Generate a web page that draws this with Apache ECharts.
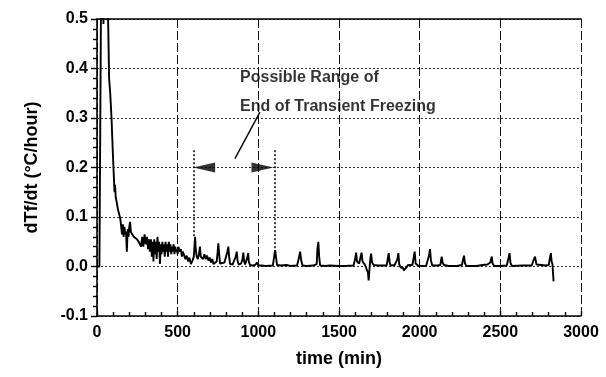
<!DOCTYPE html>
<html>
<head>
<meta charset="utf-8">
<script src="https://cdn.jsdelivr.net/npm/echarts@6/dist/echarts.min.js"></script>
<style>
  html, body { margin: 0; padding: 0; background: #fff; }
  #chart { width: 606px; height: 377px; }
</style>
</head>
<body>
<div id="chart"></div>
<script>
// Freezing-rate record: time (min) and dTf/dt (°C/hour)
const timeMin = [
  0, 15, 28, 40, 50, 70, 75, 82, 90, 97, 102, 106, 109, 112, 116, 122, 130, 138, 145, 150,
  155, 160, 165, 170, 175, 180, 185, 190, 195, 200, 205, 210, 218, 228, 238, 248, 258, 266, 273, 280,
  287, 295, 302, 310, 316, 322, 328, 334, 340, 345, 350, 355, 360, 365, 370, 375, 380, 385, 390, 395,
  400, 405, 410, 415, 420, 425, 430, 435, 440, 445, 450, 455, 460, 465, 470, 475, 480, 485, 490, 495,
  500, 505, 512, 520, 526, 532, 540, 548, 556, 565, 573, 582, 592, 600, 605, 608, 612, 618, 625, 632,
  638, 643, 650, 658, 666, 674, 682, 690, 698, 706, 714, 722, 732, 742, 748, 752, 757, 763, 775, 790,
  802, 808, 814, 819, 825, 840, 852, 860, 866, 871, 878, 893, 902, 907, 912, 918, 928, 933, 937, 941,
  948, 965, 980, 992, 1000, 1020, 1045, 1050, 1056, 1090, 1098, 1104, 1110, 1116, 1140, 1175, 1200, 1240, 1250, 1259,
  1266, 1274, 1300, 1340, 1362, 1366, 1372, 1377, 1383, 1420, 1440, 1445, 1450, 1500, 1535, 1540, 1545, 1590, 1600, 1606,
  1612, 1625, 1634, 1640, 1646, 1660, 1672, 1679, 1684, 1689, 1694, 1699, 1705, 1715, 1740, 1760, 1795, 1802, 1808, 1814,
  1820, 1845, 1856, 1862, 1868, 1873, 1882, 1890, 1897, 1902, 1910, 1918, 1928, 1935, 1955, 1963, 1969, 1975, 1990, 2010,
  2040, 2052, 2058, 2064, 2070, 2078, 2110, 2128, 2133, 2137, 2142, 2150, 2160, 2166, 2180, 2230, 2262, 2270, 2275, 2281,
  2290, 2350, 2390, 2420, 2430, 2438, 2443, 2447, 2452, 2462, 2500, 2540, 2550, 2557, 2563, 2572, 2640, 2695, 2705, 2715,
  2724, 2735, 2780, 2800, 2807, 2813, 2818, 2823, 2826, 2830
];
const dTfdt = [
  0, 0, 0.7, 0.49, 0.75, 0.48, 0.38, 0.35, 0.30, 0.24, 0.2, 0.17, 0.15, 0.165, 0.14, 0.13, 0.115, 0.105, 0.095, 0.08,
  0.065, 0.085, 0.06, 0.08, 0.065, 0.07, 0.03, 0.075, 0.06, 0.08, 0.09, 0.07, 0.065, 0.06, 0.058, 0.055, 0.05, 0.045, 0.04, 0.06,
  0.04, 0.065, 0.045, 0.06, 0.035, 0.055, 0.03, 0.055, 0.02, 0.05, 0.01, 0.055, 0.025, 0.05, 0.015, 0.06, 0.03, 0.05, 0.005, 0.045,
  0.025, 0.05, 0.03, 0.045, 0.02, 0.05, 0.03, 0.045, 0.02, 0.05, 0.03, 0.045, 0.025, 0.04, 0.03, 0.045, 0.025, 0.04, 0.03, 0.035,
  0.025, 0.04, 0.03, 0.035, 0.02, 0.03, 0.028, 0.015, 0.022, 0.01, 0.018, 0.005, 0.012, 0.02, 0.045, 0.06, 0.035, 0.02, 0.015, 0.025,
  0.04, 0.02, 0.02, 0.015, 0.025, 0.015, 0.022, 0.012, 0.018, 0.008, 0.015, 0.005, 0.008, 0.01, 0.03, 0.047, 0.025, 0.006, 0.005, 0.008,
  0.01, 0.03, 0.04, 0.02, 0.005, 0.004, 0.008, 0.02, 0.03, 0.012, 0.004, 0.006, 0.015, 0.028, 0.01, 0.004, 0.008, 0.02, 0.027, 0.01,
  0.003, 0.002, 0.003, 0.008, 0.002, 0.002, 0.001, 0.004, 0.001, 0.002, 0.02, 0.033, 0.018, 0.003, 0.002, 0.003, 0.001, 0.002, 0.015, 0.03,
  0.012, 0.002, 0.001, 0.002, 0.005, 0.035, 0.05, 0.02, 0.002, 0.001, 0.002, 0.006, 0.001, 0.001, 0.001, 0.005, 0.001, 0.002, 0.015, 0.028,
  0.01, 0.006, 0.02, 0.028, 0.01, 0.004, 0.002, -0.012, -0.028, -0.005, 0.015, 0.026, 0.008, 0.003, 0.002, 0.002, 0.002, 0.015, 0.027, 0.008,
  0.002, 0.003, 0.002, 0.015, 0.027, 0.005, -0.002, -0.006, -0.003, -0.008, -0.004, -0.002, 0.003, 0.002, 0.003, 0.018, 0.03, 0.006, 0.002, 0.001,
  0.001, 0.003, 0.022, 0.035, 0.012, 0.002, 0.002, 0.003, 0.014, 0.02, 0.008, 0.003, 0.006, 0.002, 0.001, 0.001, 0.003, 0.015, 0.022, 0.006,
  0.001, 0.001, 0.003, 0.004, 0.007, 0.008, 0.015, 0.02, 0.006, 0.001, 0.001, 0.002, 0.016, 0.027, 0.007, 0.001, 0.002, 0.002, 0.012, 0.02,
  0.004, 0.001, 0.002, 0.003, 0.017, 0.027, 0.01, 0.005, -0.01, -0.03
];

// Annotation: bracket marking the possible end of transient freezing
const bracketTimes = [600, 1100];
const bracketTop = 0.235;
const bracketBottoms = [0.06, 0.035];
const arrowLevel = 0.2;
const arrowCentres = [664, 1026];
const leaderLine = [[855, 0.218], [1010, 0.312]];
const noteLines = ['Possible Range of', 'End of Transient Freezing'];
const noteAnchors = [[887, 0.382], [887, 0.323]];

const xTickLabels = ['0', '500', '1000', '1500', '2000', '2500', '3000'];

const FONT = '"Liberation Sans", Arial, Helvetica, sans-serif';
const INK = '#000';

const series = timeMin.map((t, i) => [t, dTfdt[i]]);

const chart = echarts.init(document.getElementById('chart'), null, { renderer: 'canvas' });

chart.setOption({
  animation: false,
  backgroundColor: '#fff',
  grid: { left: 97, right: 25, top: 19, bottom: 61 },
  xAxis: [
    {
      type: 'value',
      min: 0, max: 3000, interval: 500,
      name: 'time (min)',
      nameLocation: 'middle',
      nameGap: 34,
      nameTextStyle: { fontFamily: FONT, fontSize: 18, fontWeight: 'bold', color: INK },
      axisLine: { show: true, onZero: false, lineStyle: { color: INK, width: 1.6 } },
      axisTick: { show: true, inside: true, length: 5, lineStyle: { color: INK, width: 1.4 } },
      minorTick: { show: true, splitNumber: 5, length: 4, lineStyle: { color: INK, width: 1.4 } },
      axisLabel: {
        margin: 9, fontFamily: FONT, fontSize: 16, fontWeight: 'bold', color: INK,
        formatter: v => xTickLabels[Math.round(v / 500)]
      },
      splitLine: { show: true, lineStyle: { color: '#111', width: 1, type: [9, 3] } }
    },
    {
      type: 'value', position: 'top',
      min: 0, max: 3000,
      axisLine: { show: true, onZero: false, lineStyle: { color: INK, width: 1.6 } },
      axisTick: { show: false }, axisLabel: { show: false }, splitLine: { show: false }
    }
  ],
  yAxis: {
    type: 'value',
    min: -0.1, max: 0.5, interval: 0.1,
    name: 'dTf/dt (°C/hour)',
    nameLocation: 'middle',
    nameGap: 56,
    nameTextStyle: { fontFamily: FONT, fontSize: 18, fontWeight: 'bold', color: INK },
    axisLine: { show: true, onZero: false, lineStyle: { color: INK, width: 1.6 } },
    axisTick: { show: true, inside: false, length: 6, lineStyle: { color: INK, width: 1.4 } },
    minorTick: { show: true, splitNumber: 5, length: 4, lineStyle: { color: INK, width: 1.4 } },
    axisLabel: {
      margin: 9, fontFamily: FONT, fontSize: 16, fontWeight: 'bold', color: INK,
      formatter: v => v.toFixed(1)
    },
    splitLine: { show: true, lineStyle: { color: '#333', width: 1, type: [2, 2] } }
  },
  series: [
    {
      type: 'line',
      data: series,
      showSymbol: false,
      clip: true,
      lineStyle: { color: INK, width: 1.9 },
      z: 5,
      markLine: {
        silent: true,
        symbol: 'none',
        label: { show: false },
        lineStyle: { color: INK, width: 1.5, type: [2, 2] },
        data: [
          [{ coord: [bracketTimes[0], bracketTop] }, { coord: [bracketTimes[0], bracketBottoms[0]] }],
          [{ coord: [bracketTimes[1], bracketTop] }, { coord: [bracketTimes[1], bracketBottoms[1]] }],
          [{ coord: leaderLine[0], lineStyle: { type: 'solid', width: 1.4 } },
           { coord: leaderLine[1] }]
        ]
      }
    },
    {
      // filled arrowheads of the bracket
      type: 'scatter',
      silent: true,
      z: 6,
      data: [
        { value: [arrowCentres[0], arrowLevel], symbol: 'path://M0,5 L22,0 L22,10 Z' },
        { value: [arrowCentres[1], arrowLevel], symbol: 'path://M0,0 L22,5 L0,10 Z' }
      ],
      symbolSize: [22, 10],
      itemStyle: { color: INK }
    },
    {
      // two-line note above the bracket
      type: 'scatter',
      silent: true,
      z: 6,
      symbolSize: 0,
      data: noteAnchors.map((c, i) => ({ value: c, name: noteLines[i] })),
      label: {
        show: true,
        position: 'right',
        distance: 0,
        formatter: p => p.name,
        fontFamily: FONT,
        fontSize: 16,
        fontWeight: 'bold',
        color: INK
      }
    }
  ]
});
</script>
</body>
</html>
